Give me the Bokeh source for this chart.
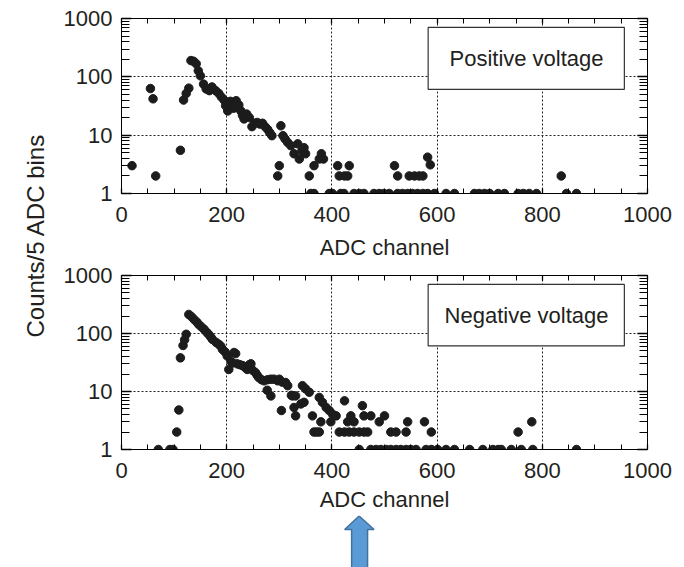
import math
from bokeh.plotting import figure
from bokeh.layouts import row, column
from bokeh.models import (FixedTicker, LogAxis, LinearAxis, BoxAnnotation, Label,
                          Range1d, NumeralTickFormatter)
from bokeh.embed import file_html
from bokeh.resources import INLINE
from bokeh.core.properties import value

# ---------------- data ----------------
pos_x = [20, 55, 60, 65, 112, 118, 123, 128, 132, 137, 142, 146, 150, 156, 161, 167, 172, 179,
         185, 190, 195, 198, 202, 207, 213, 218, 223, 227, 230, 233, 238, 243, 248, 253, 258,
         263, 268, 273, 278, 282, 286, 297, 300, 303, 307, 311, 316, 322, 328, 335, 338, 343,
         347, 350, 357, 360, 366, 366, 376, 380, 384, 395, 401, 411, 414, 417, 424, 423, 430,
         433, 442, 452, 461, 480, 490, 499, 509, 519, 525, 525, 534, 544, 547, 553, 557, 563,
         566, 573, 573, 582, 582, 587, 595, 617, 633, 671, 680, 690, 700, 716, 728, 754, 764,
         775, 789, 836, 846, 865]
pos_y = [3, 63, 42, 2, 5.5, 40, 52, 64, 190, 185, 168, 127, 104, 75, 62, 58, 67, 58,
         52, 45, 40, 32, 26, 38, 29, 39, 33, 26, 22, 19, 23, 20, 14, 16, 16.5,
         15.5, 16, 14, 12.5, 11, 9.8, 2, 3, 14.5, 9.8, 8.6, 7.5, 6.6, 4.8, 7.1, 3.9, 5.4,
         6.1, 4.8, 2, 1, 1, 3, 3.9, 4.8, 3.9, 1, 1, 3, 2, 1, 2, 1, 2,
         3, 1, 1, 1, 1, 1, 1, 1, 3, 2, 1, 1, 1, 2, 1, 2, 1,
         2, 2, 1, 4.2, 1, 3.1, 1, 1, 1, 1, 1, 1, 1, 1, 1, 1, 1,
         1, 1, 2, 1, 1]

neg_x = [70, 92, 98, 105, 109, 112, 117, 120, 123, 128, 133, 138, 143, 147, 152, 157, 162, 166,
         170, 173, 180, 185, 189, 192, 197, 201, 204, 208, 211, 214, 217, 220, 225, 230, 235,
         239, 243, 246, 250, 255, 258, 261, 266, 271, 277, 278, 284, 284, 290, 297, 300, 304,
         306, 312, 316, 323, 325, 328, 331, 331, 341, 344, 347, 350, 357, 363, 366, 371, 376,
         376, 379, 382, 389, 395, 398, 401, 408, 414, 424, 424, 430, 433, 436, 442, 442, 452,
         452, 458, 461, 461, 468, 474, 474, 484, 490, 493, 500, 503, 512, 512, 522, 522, 531,
         541, 541, 544, 550, 560, 576, 579, 589, 589, 601, 617, 633, 662, 687, 706, 716, 722,
         741, 754, 760, 780, 782, 865]
neg_y = [1, 1, 1, 2, 4.8, 38, 62, 78, 97, 213, 195, 175, 158, 143, 130, 118, 105, 96,
         86, 79, 70, 65, 60, 53, 48, 41, 24, 33, 31, 47, 45, 30, 29, 28, 26,
         24, 29, 30, 23, 21, 19, 17.4, 16, 15.3, 10.5, 16, 8.4, 16.3, 16.3, 15.3, 16.3, 4.7,
         14.5, 14.3, 12.6, 8.6, 8.4, 5.3, 8.4, 3.8, 6.1, 12.6, 6.5, 11.1, 9.7, 3.8, 2, 2, 2,
         7.9, 3, 6.5, 5.3, 4.7, 3, 4.1, 3.8, 2, 2, 6.9, 3, 2, 3.8, 2, 3, 2,
         1, 5.7, 2, 3.8, 2, 3.8, 1, 1, 3, 1, 3.8, 1, 2, 1, 2, 1, 1,
         2, 1, 3, 1, 1, 3, 1, 2, 1, 1, 1, 1, 1, 1, 1, 1, 1,
         1, 2, 1, 3, 1, 1]

x_major = [0, 200, 400, 600, 800, 1000]
x_minor = list(range(0, 1001, 50))
y_major = [1, 10, 100, 1000]
y_minor = [m * d for d in (1, 10, 100) for m in range(2, 10)]
grid_x = [200, 400, 600, 800]
grid_y = [10, 100]
x_label = "ADC channel"
y_label = "Counts/5 ADC bins"
panel_labels = ["Positive voltage", "Negative voltage"]

FONT = "Liberation Sans"
TXT = "#231f20"
FS = "22px"


def style_axis(ax, ticker, tick_in, minor_in, labels):
    ax.ticker = ticker
    ax.axis_line_color = "black"
    ax.axis_line_width = 1
    ax.major_tick_in = tick_in
    ax.major_tick_out = 0
    ax.minor_tick_in = minor_in
    ax.minor_tick_out = 0
    ax.major_tick_line_color = "black"
    ax.minor_tick_line_color = "black"
    ax.major_tick_line_width = 1.3
    ax.minor_tick_line_width = 1
    if labels:
        ax.major_label_text_font = FONT
        ax.major_label_text_font_size = FS
        ax.major_label_text_color = TXT
    else:
        ax.major_label_text_font_size = "1px"
        ax.major_label_text_color = None
        ax.major_label_standoff = 0


def panel(xs, ys, title, height, top, bottom, label_standoff):
    p = figure(width=624, height=height, x_range=Range1d(0, 1000), y_range=Range1d(1, 1000),
               y_axis_type="log", output_backend="svg", toolbar_location=None, title=None,
               min_border_left=59, min_border_right=37, min_border_top=top,
               min_border_bottom=bottom)
    p.outline_line_color = "black"
    p.outline_line_width = 1
    p.background_fill_color = "white"
    p.border_fill_color = "white"

    xt = FixedTicker(ticks=x_major, minor_ticks=x_minor)
    yt = FixedTicker(ticks=y_major, minor_ticks=y_minor)

    style_axis(p.xaxis[0], xt, 5, 5, True)
    p.xaxis[0].major_label_standoff = 13
    p.xaxis[0].axis_label = x_label
    p.xaxis[0].axis_label_text_font = FONT
    p.xaxis[0].axis_label_text_font_size = FS
    p.xaxis[0].axis_label_text_font_style = "normal"
    p.xaxis[0].axis_label_text_color = TXT
    p.xaxis[0].axis_label_standoff = label_standoff

    style_axis(p.yaxis[0], yt, 10, 8, True)
    p.yaxis[0].formatter = NumeralTickFormatter(format="0")
    p.yaxis[0].major_label_standoff = 9

    ra = LogAxis()
    style_axis(ra, FixedTicker(ticks=y_major, minor_ticks=y_minor), 10, 8, False)
    p.add_layout(ra, "right")
    ta = LinearAxis()
    style_axis(ta, FixedTicker(ticks=x_major, minor_ticks=x_minor), 5, 5, False)
    p.add_layout(ta, "above")

    p.xgrid.ticker = FixedTicker(ticks=grid_x)
    p.ygrid.ticker = FixedTicker(ticks=grid_y)
    for g in (p.xgrid[0], p.ygrid[0]):
        g.grid_line_color = "#222222"
        g.grid_line_dash = "2 2"
        g.grid_line_width = 1
        g.grid_line_alpha = 1

    r = p.scatter(xs, ys, size=8.5, fill_color="#1c1c1c", line_color="#1c1c1c")
    if "clip" in r.properties():
        r.clip = False

    p.add_layout(BoxAnnotation(left=583, right=956, bottom=61, top=703,
                               fill_color="white", fill_alpha=1,
                               line_color="#333333", line_width=1.2, line_alpha=1))
    p.add_layout(Label(x=770, y=207, text=title, text_align="center",
                       text_baseline="middle", text_font=FONT, text_font_size=FS,
                       text_color=TXT))
    return p


# top panel: page y 0..263, frame 18..193
p_top = panel(pos_x, pos_y, panel_labels[0], 263, 18, 70, 10)
# bottom panel: page y 263..515, frame 275..449
p_bot = panel(neg_x, neg_y, panel_labels[1], 252, 12, 66, 6)

# arrow strip: page y 515..567, frame aligned with the panels (page x 119..647)
p_arr = figure(width=624, height=52, x_range=Range1d(119, 647), y_range=Range1d(567, 515),
               output_backend="svg", toolbar_location=None, title=None,
               min_border_left=59, min_border_right=37, min_border_top=0, min_border_bottom=0,
               x_axis_location=None, y_axis_location=None)
p_arr.outline_line_color = None
p_arr.grid.visible = False
p_arr.patch([357.5, 343, 350, 350, 366, 366, 372.5], [515.5, 529, 529, 575, 575, 529, 529],
            fill_color="#5b9bd5", line_color="#41719c", line_width=1.5)

# y label strip
p_lab = figure(width=60, height=567, x_range=Range1d(0, 60), y_range=Range1d(567, 0),
               output_backend="svg", toolbar_location=None, title=None, min_border=0,
               x_axis_location=None, y_axis_location=None)
p_lab.outline_line_color = None
p_lab.grid.visible = False
p_lab.text(x=[35], y=[235], text=[y_label], angle=math.pi / 2, text_align="center",
           text_baseline="middle", text_font=value(FONT), text_font_size=value("24px"),
           text_color=TXT)

layout = row(p_lab, column(p_top, p_bot, p_arr))

open("out.html", "w").write(file_html(layout, INLINE))
